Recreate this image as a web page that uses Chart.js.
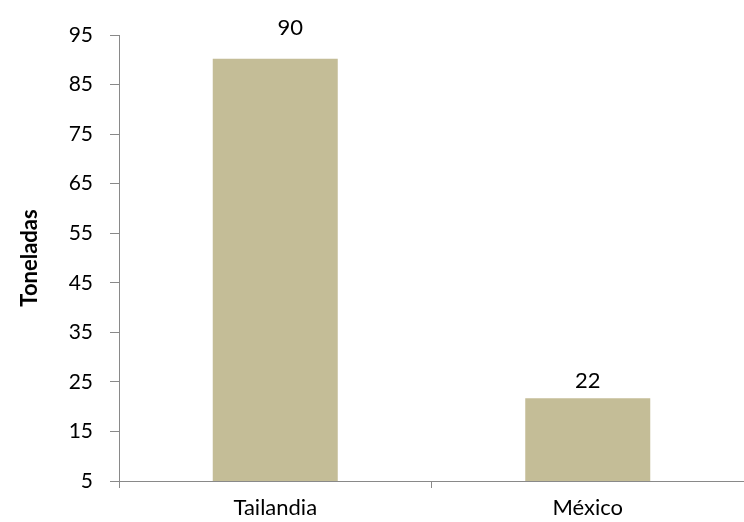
<!DOCTYPE html>
<html>
<head>
<meta charset="utf-8">
<script src="https://cdn.jsdelivr.net/npm/chart.js@4/dist/chart.umd.min.js"></script>
<style>
  html, body { margin: 0; padding: 0; background: #ffffff; }
  #wrap { width: 744px; height: 522px; }
</style>
</head>
<body>
<div id="wrap"><canvas id="c" width="744" height="522"></canvas></div>
<script>
// Data
const categories = ["Tailandia", "México"];
const values = [90.2, 21.7];
const yTicks = [5, 15, 25, 35, 45, 55, 65, 75, 85, 95];
const axisTitle = "Toneladas";

const FONT = "Lato, 'Liberation Sans', sans-serif";
const AXIS_GREY = "#898989";

const valueLabels = {
  id: "valueLabels",
  afterDatasetsDraw(chart, args, opts) {
    const ctx = chart.ctx;
    const meta = chart.getDatasetMeta(0);
    ctx.save();
    ctx.font = opts.font;
    ctx.fillStyle = opts.color;
    ctx.textAlign = "center";
    ctx.textBaseline = "middle";
    meta.data.forEach((el, i) => {
      const v = chart.data.datasets[0].data[i];
      const sh = (opts.shift && opts.shift[i]) || [0, 0];
      ctx.fillText(String(Math.round(v)), el.x + sh[0], el.y - opts.gap + sh[1]);
    });
    ctx.restore();
  }
};

new Chart(document.getElementById("c"), {
  type: "bar",
  data: {
    labels: categories,
    datasets: [{
      data: values,
      backgroundColor: "#C4BD97",
      borderWidth: 0,
      barPercentage: 0.4,
      categoryPercentage: 1.0
    }]
  },
  options: {
    responsive: false,
    animation: false,
    devicePixelRatio: 1,
    layout: { padding: { top: 35, left: 0, right: 0, bottom: 0 } },
    plugins: {
      legend: { display: false },
      tooltip: { enabled: false },
      valueLabels: {
        font: "22px " + FONT,
        color: "#000000",
        gap: 17,
        shift: [[15, -14], [0, 0]]
      }
    },
    scales: {
      x: {
        type: "category",
        grid: {
          display: true,
          offset: true,
          drawOnChartArea: false,
          drawTicks: true,
          tickLength: 7,
          color: AXIS_GREY,
          lineWidth: 1
        },
        border: { display: true, color: AXIS_GREY, width: 1 },
        ticks: {
          color: "#000000",
          font: { family: FONT, size: 22 },
          padding: 7,
          maxRotation: 0
        },
        afterFit(scale) { scale.height = 41; }
      },
      y: {
        type: "linear",
        min: 5,
        max: 95,
        afterBuildTicks(scale) { scale.ticks = yTicks.map(v => ({ value: v })); },
        grid: {
          display: true,
          drawOnChartArea: false,
          drawTicks: true,
          tickLength: 9,
          color: AXIS_GREY,
          lineWidth: 1
        },
        border: { display: true, color: AXIS_GREY, width: 1 },
        ticks: {
          color: "#000000",
          font: { family: FONT, size: 21 },
          padding: 17
        },
        title: {
          display: true,
          text: axisTitle,
          color: "#000000",
          font: { family: FONT, size: 22, weight: "bold" },
          padding: { top: 17, bottom: 0 }
        },
        afterFit(scale) { scale.width = 119; }
      }
    }
  },
  plugins: [valueLabels]
});
</script>
</body>
</html>
